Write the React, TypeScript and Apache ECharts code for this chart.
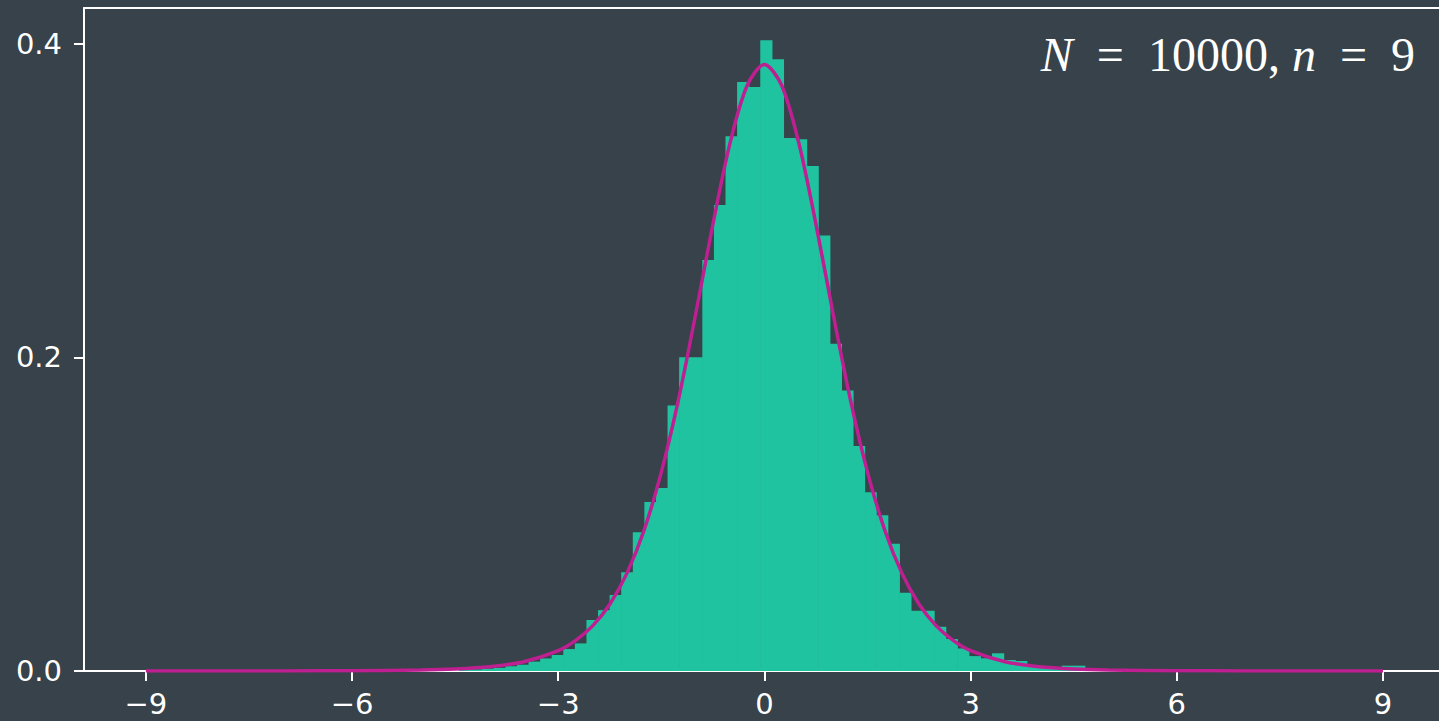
import React, { useEffect, useRef } from "react";
import * as echarts from "echarts";

// Histogram: uniform bins starting at binStart, width binWidth; densities
const binStart = -4.444;
const binWidth = 0.1686;
const binHeights = [
  0.001, 0.001, 0.0015, 0.002, 0.003, 0.004,
  0.006, 0.008, 0.0102, 0.014, 0.0176, 0.0325, 0.0388, 0.0484, 0.063, 0.0885,
  0.1078, 0.1167, 0.1693, 0.2, 0.2001, 0.2621, 0.2971, 0.341, 0.3756, 0.3724,
  0.4022, 0.39, 0.3398, 0.3391, 0.3219, 0.2776, 0.2086, 0.1789, 0.1434, 0.114,
  0.0993, 0.0811, 0.0499, 0.0384, 0.0384, 0.0282, 0.0204, 0.0144, 0.0095, 0.0081,
  0.0113, 0.007, 0.0064, 0.003, 0.002, 0.0015, 0.0034, 0.0034,
];

// Fitted density curve
const curveX = [
  -9, -8, -7, -6, -5, -4.5, -4, -3.5, -3, -2.75, -2.5, -2.25, -2, -1.75, -1.5, -1.25,
  -1, -0.75, -0.5, -0.25, 0, 0.25, 0.5, 0.75, 1, 1.25, 1.5, 1.75, 2, 2.25, 2.5, 2.75,
  3, 3.5, 4, 4.5, 5, 6, 7, 8, 9,
];
const curveY = [
  0.00001, 0.00002, 0.00006, 0.00018, 0.00066, 0.00133, 0.00276, 0.00592, 0.013, 0.0194,
  0.0288, 0.0426, 0.0624, 0.0899, 0.1268, 0.1732, 0.2276, 0.2848, 0.3367, 0.3734, 0.3867,
  0.3734, 0.3367, 0.2848, 0.2276, 0.1732, 0.1268, 0.0899, 0.0624, 0.0426, 0.0288, 0.0194,
  0.013, 0.00592, 0.00276, 0.00133, 0.00066, 0.00018, 0.00006, 0.00002, 0.00001,
];

const xTicks = [-9, -6, -3, 0, 3, 6, 9];
const yTicks = [0, 0.2, 0.4];
const annotation = "{i|N}\u2002=\u200210000, {i|n}\u2002=\u20029";

const BG = "#37424a";
const BAR = "#20c3a0";
const CURVE = "#be1f91";
const FG = "#ffffff";

export default function App() {
  const ref = useRef<HTMLDivElement>(null);
  useEffect(() => {
    if (!ref.current) return;
    const chart = echarts.init(ref.current, null, { renderer: "svg" });
    const histData = binHeights.map((h, i) => [
      binStart + i * binWidth,
      binStart + (i + 1) * binWidth,
      h,
    ]);
    const lineData = curveX.map((x, i) => [x, curveY[i]]);
    const xMin = -9.9;
    const xMax = 9.815;
    chart.setOption({
      animation: false,
      backgroundColor: BG,
      grid: {
        left: 84,
        top: 8,
        bottom: 50,
        right: 0,
      },
      xAxis: [
        {
          type: "value",
          min: xMin,
          max: xMax,
          position: "bottom",
          axisLine: { show: true, onZero: false, lineStyle: { color: FG, width: 2 } },
          splitLine: { show: false },
          axisTick: {
            show: true,
            customValues: xTicks,
            length: 10,
            lineStyle: { color: FG, width: 2 },
          },
          axisLabel: {
            customValues: xTicks,
            color: FG,
            fontFamily: "DejaVu Sans",
            fontSize: 29,
            margin: 18,
            formatter: (v: number) => (v < 0 ? "\u2212" : "") + Math.abs(v),
          },
        },
        {
          type: "value",
          min: xMin,
          max: xMax,
          position: "top",
          axisLine: { show: true, onZero: false, lineStyle: { color: FG, width: 2 } },
          splitLine: { show: false },
          axisTick: { show: false },
          axisLabel: { show: false },
        },
      ],
      yAxis: {
        type: "value",
        min: 0,
        max: 0.4227,
        axisLine: { show: true, onZero: false, lineStyle: { color: FG, width: 2 } },
        splitLine: { show: false },
        axisTick: {
          show: true,
          customValues: yTicks,
          length: 10,
          lineStyle: { color: FG, width: 2 },
        },
        axisLabel: {
          customValues: yTicks,
          color: FG,
          fontFamily: "DejaVu Sans",
          fontSize: 29,
          margin: 22,
          formatter: (v: number) => v.toFixed(1),
        },
      },
      series: [
        {
          type: "custom",
          z: 2,
          xAxisIndex: 0,
          encode: { x: [0, 1], y: 2 },
          data: histData,
          renderItem: (params: any, api: any) => {
            const p0 = api.coord([api.value(0), api.value(2)]);
            const p1 = api.coord([api.value(1), 0]);
            return {
              type: "rect",
              shape: {
                x: p0[0],
                y: p0[1],
                width: p1[0] - p0[0] + 0.6,
                height: p1[1] - p0[1],
              },
              style: { fill: BAR },
            };
          },
        },
        {
          type: "line",
          z: 3,
          xAxisIndex: 0,
          data: lineData,
          smooth: 0.3,
          showSymbol: false,
          symbol: "none",
          lineStyle: { color: CURVE, width: 3.5 },
        },
      ],
      graphic: [
        {
          type: "text",
          x: 1415,
          y: 54,
          z: 10,
          style: {
            text: annotation,
            align: "right",
            verticalAlign: "middle",
            fill: FG,
            fontFamily: "Liberation Serif",
            fontSize: 48,
            rich: {
              i: {
                fontStyle: "italic",
                fontFamily: "Liberation Serif",
                fontSize: 48,
                fill: FG,
              },
            },
          },
        },
      ],
    });
    return () => chart.dispose();
  }, []);
  return (
    <div
      ref={ref}
      style={{ position: "fixed", left: 0, top: 0, width: 1439, height: 721 }}
    />
  );
}
